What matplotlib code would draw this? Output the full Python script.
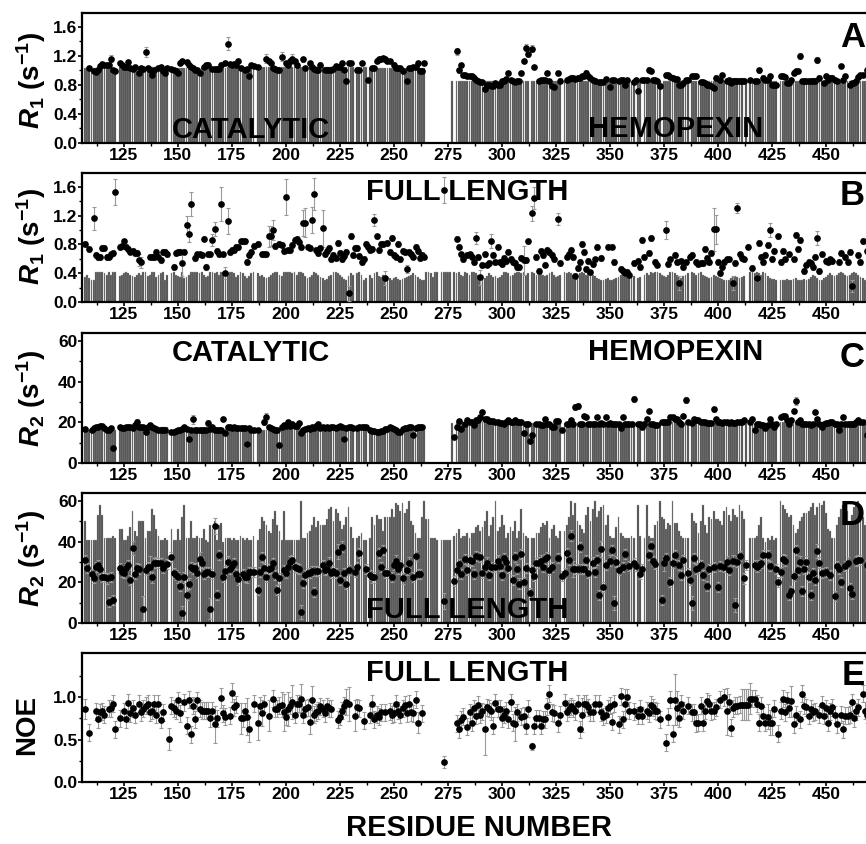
import numpy as np
import matplotlib
matplotlib.use('Agg')
import matplotlib.pyplot as plt
from matplotlib.ticker import MultipleLocator, FixedLocator

plt.rcParams['font.family'] = ['Liberation Sans', 'DejaVu Sans']
plt.rcParams['font.weight'] = 'bold'
plt.rcParams['mathtext.fontset'] = 'custom'
plt.rcParams['mathtext.rm'] = 'Liberation Sans:bold'
plt.rcParams['mathtext.it'] = 'Liberation Sans:bold:italic'
plt.rcParams['mathtext.bf'] = 'Liberation Sans:bold'

# every list below: one row per 10 residues starting at first_res,
# the row over the interdomain linker (267-275) has 9 entries
first_res = 107

# panel A: R1 of the isolated catalytic and hemopexin domains
r1_domain = [
    [None, None, 1.03, None, 0.99, 0.98, 1.01, 1.06, 1.09, 1.07],
    [1.07, 1.07, 1.16, 1.00, 0.99, None, 1.10, 1.07, 1.05, 1.05],
    [1.11, 1.03, 1.02, 1.04, None, 0.96, 1.03, 1.02, 1.25, 1.03],
    [1.00, 0.94, 1.01, None, 1.03, 1.05, 0.99, 0.97, 1.03, None],
    [1.02, 1.00, 0.99, 0.97, 1.10, 1.13, None, 1.11, 1.07, 1.04],
    [1.03, 1.01, 1.00, 0.97, None, 1.04, 1.07, 1.08, None, 1.02],
    [1.02, 1.02, 1.02, 1.08, None, 1.10, 1.37, 1.09, 1.08, 1.09],
    [1.07, 1.13, 1.03, None, 1.01, 1.02, 0.92, 1.07, 1.06, None],
    [1.04, None, None, None, 1.16, 1.13, 1.10, 1.03, 1.02, 1.00],
    [1.00, 1.19, None, 1.10, 1.08, 1.13, 1.16, 1.13, 1.07, None],
    [None, 1.15, 1.03, None, 1.10, 1.05, 1.02, 1.00, 1.00, 1.08],
    [None, 1.00, 1.00, 1.00, 1.01, 1.02, 1.06, 1.05, 1.05, 1.10],
    [1.00, 0.85, 1.10, 1.10, None, None, 1.00, 1.00, 1.10, None],
    [None, 0.87, None, 1.03, 1.03, 1.13, 1.15, 1.16, 1.17, 1.15],
    [1.13, 1.13, None, 1.08, 1.03, 1.03, 1.03, 0.99, None, 0.85],
    [1.03, 1.03, 1.05, 1.05, 1.10, 0.99, 0.99, 1.10, None, None],
    [None, None, None, None, None, None, None, None, None],
    [None, None, None, 1.26, 1.00, 1.07, 0.94, 0.93, 0.92, 0.92],
    [0.92, 0.90, 0.87, 0.85, 0.84, 0.84, 0.74, 0.80, 0.80, 0.78],
    [0.79, 0.82, 0.80, 0.80, 0.85, 0.86, 0.88, 0.96, 0.87, 0.85],
    [0.84, 0.85, 0.85, 0.96, 1.13, 1.31, 1.23, None, 1.30, 1.05],
    [None, 0.85, 0.87, 0.87, 0.87, 0.96, 0.85, 0.79, 0.77, None],
    [0.96, 0.86, None, None, 0.87, 0.88, 0.90, 0.90, 0.88, 0.90],
    [0.90, 0.92, 0.92, 0.97, 0.92, 0.90, 0.87, 0.86, None, 0.84],
    [0.84, 0.84, 0.88, None, 0.77, 0.87, 0.87, None, 0.86, 0.87],
    [0.87, 0.80, 0.87, None, None, 0.84, 0.87, 0.71, None, 0.87],
    [0.87, 0.87, 1.01, 0.99, 0.87, 0.87, 0.85, 0.79, None, None],
    [0.93, 0.93, 0.91, 0.90, 0.88, 0.88, 0.80, 0.80, 0.83, 0.87],
    [0.87, None, 0.92, 0.92, 0.92, None, 0.84, 0.84, 0.82, 0.80],
    [0.80, 0.78, 0.76, 0.90, None, 0.87, 0.94, None, 0.86, 0.87],
    [0.82, 0.86, 0.86, 0.86, 0.86, 0.86, 0.86, None, None, 0.87],
    [None, 0.85, 0.85, 1.00, None, 0.90, 0.87, 0.87, 0.92, 0.80],
    [0.80, 0.80, None, 0.92, 0.92, 0.91, 0.82, 0.82, 0.87, 0.97],
    [0.99, 0.99, 1.20, 0.85, 0.85, 0.85, 0.85, 0.85, 0.86, 0.86],
    [1.14, 0.90, None, 0.83, 0.92, 0.87, 0.90, 0.90, 0.87, 0.85],
    [None, 1.06, 0.87, 0.92, None, 0.80, 0.82, 0.82, 0.85, 0.91],
    [0.94, 0.94, None, 1.01],
]
r1_domain_bar = [
    [1.03, 1.03, 1.03, 1.03, 1.03, 1.03, 1.03, 1.03, 1.03, 1.03],
    [1.03, 1.03, 1.03, 1.03, 1.03, None, 1.05, 1.05, 1.05, 1.05],
    [1.05, 1.05, 1.05, 1.05, 1.05, 1.05, 1.05, 1.05, 1.05, 1.05],
    [1.05, 1.05, 1.05, 1.05, 1.05, 1.05, 1.05, 1.05, 1.05, None],
    [1.03, 1.03, 1.03, 1.03, 1.03, 1.03, 1.03, 1.03, 1.03, 1.03],
    [1.03, 1.03, 1.03, 1.03, 1.03, 1.04, 1.04, 1.04, 1.04, 1.04],
    [1.04, 1.04, 1.03, 1.03, 1.03, 1.03, 1.04, 1.04, 1.04, 1.04],
    [1.04, 1.04, 1.04, 1.03, 1.03, 1.03, 1.03, 1.03, 1.03, None],
    [1.05, 1.05, 1.05, 1.05, 1.05, 1.05, 1.05, 1.05, 1.05, 1.05],
    [1.05, 1.05, 1.05, 1.05, 1.05, 1.05, 1.05, 1.05, 1.05, 1.05],
    [1.05, 1.05, 1.05, 1.05, 1.05, 1.05, 1.05, 1.05, 1.05, 1.05],
    [1.05, 1.05, 1.05, 1.05, 1.05, 1.05, 1.05, 1.05, 1.05, 1.05],
    [1.05, 1.05, 1.05, 1.05, 1.05, None, 1.04, 1.04, 1.04, 1.04],
    [1.04, None, 1.03, 1.03, 1.03, 1.03, 1.03, 1.03, 1.03, 1.03],
    [1.03, 1.03, 1.03, 1.03, 1.03, 1.03, 1.03, 1.03, 1.03, 1.03],
    [1.03, 1.03, 1.03, 1.03, 1.03, 1.03, 1.03, 1.03, None, None],
    [None, None, None, None, None, None, None, None, None],
    [None, 0.85, None, 0.86, 0.86, 0.86, 0.86, 0.86, 0.86, 0.86],
    [0.86, 0.86, 0.86, 0.86, 0.86, 0.86, 0.86, 0.86, 0.86, 0.86],
    [0.86, 0.86, 0.86, 0.86, 0.86, 0.86, 0.86, 0.86, 0.86, 0.86],
    [0.86, 0.86, 0.86, 0.86, 0.86, 0.86, 0.86, None, 0.85, 0.85],
    [0.85, 0.85, 0.85, 0.85, 0.85, 0.85, 0.85, 0.85, 0.85, 0.85],
    [0.85, 0.85, None, 0.85, 0.85, 0.85, 0.85, 0.85, 0.85, 0.85],
    [0.85, 0.85, 0.85, 0.85, 0.85, 0.85, 0.85, 0.85, 0.85, 0.85],
    [0.85, 0.85, 0.85, 0.85, 0.85, 0.85, 0.85, 0.85, 0.85, 0.85],
    [0.85, 0.85, 0.85, 0.85, 0.85, 0.85, None, 0.85, 0.85, None],
    [0.85, 0.85, 0.85, 0.85, 0.85, 0.85, 0.85, 0.85, None, 0.86],
    [0.86, 0.86, 0.86, 0.86, 0.86, 0.86, 0.86, 0.86, 0.86, 0.86],
    [0.86, None, 0.85, 0.85, 0.85, 0.85, 0.85, 0.85, 0.85, 0.85],
    [0.85, 0.85, 0.85, 0.85, 0.85, 0.85, 0.85, 0.85, 0.85, 0.85],
    [0.85, 0.85, 0.85, 0.85, 0.85, 0.85, None, 0.85, None, 0.85],
    [0.85, 0.85, 0.85, 0.85, 0.85, 0.85, 0.85, 0.85, 0.85, 0.85],
    [0.85, 0.85, None, 0.85, 0.85, 0.85, 0.85, 0.85, 0.85, 0.85],
    [0.85, 0.85, 0.85, 0.85, 0.85, 0.85, 0.85, 0.85, 0.85, 0.85],
    [0.85, 0.85, 0.85, 0.85, 0.85, 0.85, 0.85, 0.85, 0.85, 0.85],
    [0.85, 0.85, 0.85, 0.85, 0.85, 0.85, 0.85, 0.85, 0.85, 0.85],
    [0.85, 0.85, 0.85, 0.85],
]
r1_domain_err = {119: 0.05, 135: 0.07, 173: 0.09, 191: 0.06, 198: 0.06, 203: 0.07,
                 279: 0.05, 311: 0.05, 312: 0.05, 314: 0.05, 438: 0.04, 446: 0.04}

# panel B: R1 of full-length protein
r1_full = [
    [0.80, None, 0.74, None, 1.16, 0.65, 0.62, 0.62, 0.75, 0.75],
    [0.62, 0.63, 0.66, 0.68, 1.53, None, 0.76, 0.78, 0.84, 0.77],
    [0.74, 0.70, 0.71, 0.68, 0.68, 0.58, 0.55, None, None, None],
    [0.63, 0.63, 0.62, 0.69, 0.63, 0.58, 0.69, 0.69, 0.66, None],
    [None, 0.49, 0.68, 0.69, 0.70, 0.54, 0.70, 1.07, 0.95, 1.36],
    [None, 0.61, 0.66, 0.66, 0.65, 0.88, 0.49, 0.66, 0.66, 0.86],
    [1.01, 0.71, 0.66, 1.36, 0.66, 0.40, 1.12, 0.69, 0.72, 0.72],
    [0.76, 0.76, 0.84, 0.84, 0.84, 0.56, 0.65, 0.70, 0.78, None],
    [0.80, None, 0.66, 0.66, 0.66, 0.91, 0.92, 1.00, 0.78, None],
    [0.80, 0.79, 0.71, 1.46, 0.72, 0.72, 0.79, 0.86, 0.88, 0.83],
    [0.76, 1.09, 1.10, 0.77, 0.75, 1.14, 1.50, 0.72, 0.68, 0.75],
    [1.02, 0.66, 0.71, 0.75, 0.60, 0.65, 0.61, 0.82, 0.68, 0.59],
    [0.64, 0.69, 0.12, 0.92, 0.65, 0.75, 0.75, 0.64, 0.56, 0.60],
    [0.80, 0.77, 0.72, 0.74, 1.14, 0.91, 0.72, 0.80, 0.80, 0.33],
    [0.82, 0.69, 0.89, 0.65, 0.63, 0.80, 0.59, 0.71, 0.69, 0.46],
    [0.69, 0.66, 0.63, 0.77, 0.71, 0.61, 0.65, 0.63, None, None],
    [None, None, None, None, None, None, 1.55, None, None],
    [None, None, None, 0.88, 0.77, 0.66, 0.60, None, 0.65, 0.66],
    [0.63, 0.56, 0.89, 0.62, 0.34, 0.51, 0.66, 0.52, 0.54, 0.85],
    [0.65, 0.56, 0.77, 0.56, 0.53, 0.61, 0.57, 0.70, 0.60, 0.56],
    [0.54, 0.49, 0.48, 0.61, 0.58, 0.58, 0.84, None, 1.23, 1.44],
    [0.62, 0.43, 0.71, 0.65, 0.52, 0.72, 0.69, 0.65, 0.59, None],
    [1.15, 0.54, None, None, 0.63, 0.66, 0.72, 0.62, 0.36, 0.47],
    [0.55, 0.81, 0.69, 0.46, 0.57, 0.41, 0.53, 0.59, 0.76, None],
    [0.61, None, None, 0.77, None, 0.77, 0.55, None, None, 0.46],
    [0.43, 0.40, 0.42, 0.38, None, 0.54, None, 0.57, 0.49, 0.86],
    [0.62, None, 0.68, 0.89, None, 0.55, 0.52, None, None, None],
    [1.00, 0.53, 0.59, None, 0.65, 0.55, 0.26, 0.57, 0.49, 0.55],
    [None, 0.62, 0.65, None, 0.55, 0.53, 0.54, 0.54, 0.74, 0.61],
    [0.55, 0.68, 1.01, 1.01, 0.56, 0.40, 0.49, 0.56, 0.59, 0.59],
    [None, 0.26, 0.54, 1.30, 0.66, 0.61, 0.59, None, 0.77, None],
    [0.47, None, 0.33, 0.82, 0.63, 0.56, 0.65, 0.79, 1.00, 0.60],
    [0.71, None, 0.91, 0.56, 0.71, 0.59, None, 0.66, None, 0.59],
    [0.93, 0.74, 0.86, None, 0.43, 0.52, 0.55, 0.54, 0.49, 0.63],
    [0.89, 0.43, 0.66, None, 0.57, 0.56, 0.59, 0.57, None, None],
    [0.56, 0.68, None, 0.62, 0.55, 0.69, 0.22, None, None, 0.65],
    [0.56, 0.85, None, 0.71],
]
r1_full_bar = [
    [0.35, 0.38, 0.33, 0.30, 0.31, 0.42, 0.42, 0.42, 0.42, 0.40],
    [0.38, 0.42, 0.38, 0.42, 0.42, None, 0.36, 0.38, 0.40, 0.42],
    [0.40, 0.37, 0.36, 0.35, 0.38, 0.40, 0.38, 0.41, 0.42, 0.36],
    [0.38, 0.41, 0.42, 0.35, 0.38, 0.40, 0.42, 0.30, 0.38, None],
    [0.40, 0.42, 0.38, 0.36, 0.35, 0.42, 0.33, 0.35, 0.38, 0.42],
    [0.42, 0.41, 0.42, 0.40, 0.42, 0.37, 0.35, 0.36, 0.42, 0.42],
    [0.40, 0.42, 0.38, 0.41, 0.42, 0.42, 0.40, 0.42, 0.42, 0.40],
    [0.35, 0.38, 0.42, 0.40, 0.36, 0.33, 0.36, 0.40, 0.42, None],
    [0.40, 0.36, 0.38, 0.35, 0.33, 0.35, 0.38, 0.40, 0.42, 0.41],
    [0.38, 0.36, 0.42, 0.42, 0.42, 0.42, 0.40, 0.42, 0.38, 0.41],
    [0.42, 0.40, 0.36, 0.33, 0.35, 0.38, 0.42, 0.40, 0.38, 0.35],
    [0.33, 0.30, 0.32, 0.36, 0.38, 0.42, 0.42, 0.40, 0.38, 0.35],
    [0.32, 0.30, 0.36, 0.40, 0.38, None, 0.40, 0.42, 0.38, 0.30],
    [0.33, None, 0.38, 0.33, 0.40, 0.42, 0.36, 0.35, 0.38, 0.32],
    [0.35, 0.33, 0.30, 0.33, 0.35, 0.32, 0.30, 0.32, 0.33, 0.35],
    [0.36, 0.38, 0.40, 0.38, 0.35, 0.32, 0.30, 0.30, 0.42, 0.42],
    [0.40, 0.35, 0.42, 0.42, None, 0.42, 0.42, 0.42, 0.42],
    [0.42, None, 0.42, 0.40, 0.42, 0.38, 0.36, 0.42, 0.40, 0.38],
    [0.42, 0.42, 0.40, 0.38, 0.36, 0.35, 0.33, 0.36, 0.40, 0.38],
    [0.35, 0.36, 0.33, 0.34, 0.38, 0.42, 0.42, 0.40, 0.36, 0.38],
    [0.40, 0.42, 0.42, 0.40, 0.42, 0.38, 0.40, None, 0.42, 0.40],
    [0.38, 0.42, 0.42, 0.38, 0.36, 0.38, 0.40, 0.42, 0.38, 0.35],
    [0.36, 0.38, None, 0.42, 0.40, 0.42, 0.40, 0.38, 0.35, 0.36],
    [0.40, 0.42, 0.40, 0.38, 0.42, 0.40, 0.38, 0.36, 0.33, 0.32],
    [0.30, 0.31, 0.32, 0.33, 0.31, 0.30, 0.32, 0.33, 0.35, 0.38],
    [0.40, 0.42, 0.42, 0.40, 0.35, 0.36, None, 0.33, 0.35, None],
    [0.38, 0.40, 0.38, 0.42, 0.40, 0.42, 0.42, 0.40, 0.38, 0.36],
    [0.35, 0.38, 0.42, 0.42, 0.40, 0.38, 0.36, 0.33, 0.36, 0.38],
    [0.40, None, 0.42, 0.40, 0.38, 0.40, 0.42, 0.38, 0.36, 0.35],
    [0.33, 0.35, 0.38, 0.36, 0.34, 0.33, 0.32, 0.31, 0.30, 0.31],
    [0.33, 0.35, 0.36, 0.34, 0.33, 0.35, 0.36, None, None, 0.42],
    [0.42, 0.40, 0.42, 0.40, 0.38, 0.42, 0.40, 0.36, 0.33, 0.32],
    [0.32, 0.30, None, 0.31, 0.30, 0.31, 0.32, 0.31, 0.30, 0.32],
    [0.33, 0.31, 0.30, 0.31, 0.32, 0.30, 0.32, 0.35, 0.38, 0.36],
    [0.33, 0.31, 0.30, 0.33, 0.35, 0.38, 0.40, 0.38, 0.36, 0.38],
    [0.40, 0.42, 0.40, 0.38, 0.36, 0.38, 0.40, 0.42, 0.40, 0.38],
    [0.35, 0.33, 0.30, 0.31],
]
r1_full_err = {111: 0.16, 121: 0.18, 132: 0.08, 133: 0.08, 152: 0.18, 154: 0.13,
               155: 0.12, 156: 0.17, 166: 0.08, 167: 0.10, 170: 0.24, 172: 0.08,
               173: 0.18, 192: 0.14, 193: 0.14, 194: 0.14, 200: 0.25, 208: 0.18,
               209: 0.20, 212: 0.18, 213: 0.22, 217: 0.25, 229: 0.10, 241: 0.08,
               246: 0.10, 256: 0.06, 273: 0.18, 288: 0.08, 290: 0.10, 295: 0.10,
               310: 0.20, 314: 0.10, 315: 0.15, 326: 0.08, 376: 0.12, 382: 0.10,
               398: 0.30, 399: 0.20, 407: 0.10, 409: 0.07, 417: 0.10, 424: 0.10,
               446: 0.10, 462: 0.08}

# panel C: R2 of the isolated domains
r2_domain = [
    [16.5, None, None, 16.0, 17.0, 17.5, 17.5, 18.0, 18.0, 17.0],
    [16.0, 16.0, 17.0, 7.6, None, None, 17.5, 17.0, 17.0, 17.5],
    [17.8, 17.5, 17.0, 18.6, 20.3, 17.8, 17.5, 17.8, 15.3, 17.8],
    [18.6, 17.8, 17.0, 16.5, 16.0, 16.0, 16.0, 16.0, None, None],
    [15.3, 15.3, 15.8, 16.0, 16.0, 16.5, 17.8, 16.5, 12.0, 16.0],
    [21.4, 16.0, 16.0, 16.0, 16.0, 16.0, 16.0, 19.8, 16.5, 17.8],
    [16.0, 16.0, 16.0, 16.0, 21.4, 14.8, 17.5, 17.8, 17.0, 17.5],
    [17.0, 17.0, 17.0, 17.0, 17.0, 9.2, 17.0, 16.0, 16.0, None],
    [16.0, None, None, 20.3, 22.4, 17.5, 17.0, 16.5, 16.0, 16.0],
    [8.7, 17.8, 18.6, 18.0, 20.3, 18.0, 19.4, 18.1, 18.1, 19.8],
    [14.8, 16.0, 16.5, 17.0, 16.5, 17.5, 17.0, 18.0, 19.1, 17.0],
    [17.5, 17.0, 17.5, 17.0, 17.5, 17.5, 17.0, 17.5, 18.0, 17.5],
    [12.0, 17.0, 17.5, 17.8, 17.0, None, 17.0, 17.5, 17.8, 17.8],
    [17.8, None, 16.0, 15.8, 15.8, 15.3, 15.3, 15.8, 15.8, 16.5],
    [16.5, 17.5, 17.0, 16.5, 16.0, 15.3, 15.3, 16.5, 17.0, 17.0],
    [17.8, 17.5, 13.7, 17.0, 17.5, 17.8, 17.8, None, None, None],
    [None, None, None, None, None, None, None, None, None],
    [None, None, 12.9, 17.5, 20.8, 16.5, None, 19.4, 21.1, 20.3],
    [20.3, 18.6, 21.1, 21.1, 22.7, 25.2, 21.4, 21.4, 20.8, 20.8],
    [20.8, 20.3, 20.3, 19.8, 19.8, 19.1, 20.3, 21.1, 20.3, 20.3],
    [21.1, 20.3, 20.3, 20.3, 14.8, 19.4, 19.4, 10.9, 13.7, None],
    [19.1, 19.1, 18.6, 18.6, 21.6, 19.4, 19.4, 17.5, 17.5, 20.8],
    [20.8, None, 16.2, None, 19.1, 19.1, 21.1, 19.1, 27.4, 28.0],
    [19.4, 19.4, 23.0, 22.4, 19.1, 19.1, 19.1, 19.1, 22.7, 19.1],
    [19.8, 19.4, 22.7, 19.4, 19.8, 19.4, 19.4, 19.1, 19.1, 17.0],
    [22.7, 19.4, 19.4, 19.4, 19.4, 31.5, None, 19.4, 19.4, 17.8],
    [19.4, 21.4, 25.7, 19.4, 19.4, 18.6, 18.6, None, 20.3, 20.3],
    [20.3, 20.3, 22.4, 22.7, 21.4, 21.4, 20.3, 19.4, 23.1, 31.0],
    [20.3, None, 19.8, 21.4, 21.1, 21.1, 20.3, 20.3, 20.3, 19.8],
    [19.8, 19.8, 26.4, 21.4, 20.3, 20.3, 19.8, 20.3, 20.3, 19.8],
    [20.3, 19.8, 19.8, 20.3, 20.3, 20.3, 21.1, None, None, 20.3],
    [21.4, 16.2, 19.4, 19.4, 18.6, 18.6, 17.0, 18.6, 21.4, 19.4],
    [17.8, 19.4, None, 22.7, 23.1, 23.1, 21.1, 19.4, 21.1, 25.7],
    [30.5, 20.3, 21.1, 19.4, 19.4, 19.1, 19.1, 18.6, 19.1, 25.2],
    [21.4, 19.4, 17.8, 19.4, 19.8, 19.8, 20.3, 20.3, 19.4, 19.1],
    [16.2, 19.4, 22.4, 19.4, 19.4, 19.1, 19.1, 19.4, 20.3, 21.1],
    [20.3, 20.3, None, 13.7],
]
r2_domain_bar = [
    [16.2, 16.2, 16.2, 16.2, 16.2, 16.2, 16.2, 16.2, 16.2, 16.2],
    [16.2, 16.2, 16.2, 16.2, 16.2, None, 17.5, 17.5, 17.5, 17.5],
    [17.5, 17.5, 17.5, 17.5, 17.5, 17.5, 17.5, 17.5, 17.5, 17.5],
    [17.5, 17.5, 17.5, 17.5, 17.5, 17.5, 17.5, 17.5, 17.5, None],
    [16.2, 16.2, 16.2, 16.2, 16.2, 16.2, 16.2, 16.2, 16.2, 16.2],
    [16.2, 16.2, 16.2, 16.2, 16.2, 16.2, 16.2, 16.2, 16.2, 16.2],
    [16.5, 16.5, 16.5, 16.5, 16.5, 16.5, 16.5, 16.5, 16.5, 16.5],
    [16.2, 16.2, 16.2, 16.2, 16.2, 16.2, 16.2, 16.2, 16.2, None],
    [16.2, 16.2, 16.2, 16.2, 16.2, 16.2, 16.2, 16.2, 16.2, 16.2],
    [16.5, 16.5, 16.5, 16.5, 16.5, 16.5, 16.5, 16.5, 16.5, 16.5],
    [16.5, 16.5, 16.5, 16.5, 16.5, 16.5, 16.5, 16.5, 16.5, 16.5],
    [17.0, 17.0, 17.0, 17.0, 17.0, 17.0, 17.0, 17.0, 17.0, 17.0],
    [17.0, 17.0, 17.0, 17.0, 17.0, None, 17.5, 17.5, 17.5, 17.5],
    [17.5, None, 16.0, 16.0, 16.0, 16.0, 16.0, 16.0, 16.0, 16.0],
    [16.0, 16.0, 16.0, 16.0, 16.0, 16.0, 16.0, 16.0, 16.0, 16.0],
    [16.0, 16.0, 16.0, 16.0, 16.0, 16.0, 16.0, 16.0, None, None],
    [None, None, None, None, None, None, None, None, None],
    [None, 19.8, None, 20.3, 20.3, 20.3, 20.3, 20.3, 20.3, 20.3],
    [20.3, 20.3, 20.3, 20.3, 20.3, 20.3, 20.3, 20.3, 20.3, 20.3],
    [20.3, 20.3, 20.3, 20.3, 20.3, 20.3, 20.3, 20.3, 20.3, 20.3],
    [20.3, 20.3, 20.3, 20.3, 20.3, 20.3, 20.3, None, 19.8, 19.8],
    [19.8, 19.8, 19.8, 19.8, 19.8, 19.8, 19.8, 19.8, 19.8, 19.8],
    [19.8, 19.8, None, 19.8, 19.8, 19.8, 19.8, 19.8, 19.8, 19.8],
    [19.8, 19.8, 19.8, 19.8, 19.8, 19.8, 19.8, 19.8, 19.8, 19.8],
    [19.8, 19.8, 19.8, 19.8, 19.8, 19.8, 19.8, 19.8, 19.8, 19.8],
    [19.8, 19.8, 19.8, 19.8, 19.8, 19.8, None, 19.8, 19.8, None],
    [19.8, 19.8, 19.8, 19.8, 19.8, 19.8, 19.8, 19.8, None, 20.3],
    [20.3, 20.3, 20.3, 20.3, 20.3, 20.3, 20.3, 20.3, 20.3, 20.3],
    [20.3, None, 20.3, 20.3, 20.3, 20.3, 20.3, 20.3, 20.3, 20.3],
    [20.3, 20.3, 20.3, 20.3, 20.3, 20.3, 20.3, 20.3, 20.3, 20.3],
    [20.3, 20.3, 20.3, 20.3, 20.3, 20.3, None, 20.3, None, 19.8],
    [19.4, 19.4, 19.4, 19.4, 19.4, 19.4, 19.4, 19.4, 19.4, 19.4],
    [19.4, 19.4, None, 20.3, 20.3, 20.3, 20.3, 20.3, 20.3, 20.3],
    [20.3, 20.3, 20.3, 20.3, 20.3, 20.3, 20.3, 20.3, 20.3, 20.3],
    [20.3, 20.3, 20.3, 20.3, 20.3, 20.3, 20.3, 20.3, 20.3, 20.3],
    [20.3, 20.3, 20.3, 20.3, 20.3, 20.3, 20.3, 20.3, 20.3, 20.3],
    [20.3, 20.3, 20.3, 20.3],
]
r2_domain_err = {131: 1.5, 155: 1.0, 157: 2.0, 164: 1.5, 171: 1.0, 172: 1.0, 182: 1.5,
                 190: 1.5, 191: 2.0, 227: 1.5, 259: 1.5, 334: 1.5, 335: 1.5, 361: 1.5,
                 385: 1.5, 398: 1.2, 430: 1.0, 435: 1.0, 436: 2.0}

# panel D: R2 of full-length protein
r2_full = [
    [31.0, 27.0, None, 24.0, 22.0, 27.4, 28.5, 26.4, 22.7, 22.7],
    [21.9, 10.4, 22.7, 11.2, None, None, 26.9, 25.2, 24.7, 26.9],
    [28.5, 21.1, 36.8, 24.0, 26.9, 26.4, None, 7.1, 26.0, 27.4],
    [27.7, 22.4, 29.3, 29.7, 29.3, 29.3, 26.9, None, 29.0, None],
    [32.3, 24.7, 23.6, 22.4, 18.1, 4.9, 22.4, 13.7, 19.4, 27.4],
    [26.4, 26.9, 24.7, 31.5, 29.7, 24.0, 25.2, 25.2, 7.1, 24.0],
    [47.8, 13.7, 33.5, None, 22.7, 25.7, 30.2, 26.4, 28.0, 29.3],
    [24.0, 21.4, None, 24.0, 22.7, 22.4, 25.2, 25.2, 25.2, None],
    [16.2, 25.2, 32.6, 26.9, 22.7, 26.4, 26.9, 29.3, 23.6, 16.2],
    [21.9, None, 26.0, 24.4, 27.4, 30.2, 31.0, 27.7, 26.9, 26.4],
    [5.4, 19.8, 23.6, 24.7, 24.7, 25.7, 15.3, 25.7, 25.7, None],
    [28.5, 26.0, 26.4, 29.7, 24.4, 25.7, 24.4, 35.1, 21.1, 37.6],
    [24.7, 19.4, 26.0, None, None, 25.2, 27.4, 34.6, None, None],
    [26.4, None, 23.6, 22.4, 22.4, None, 34.6, 27.7, 35.9, 24.7],
    [24.4, None, 22.7, 28.5, 30.7, 26.4, 28.5, 21.9, None, 26.0],
    [29.7, None, 22.7, 33.0, 24.0, 24.0, None, None, None, None],
    [None, None, None, None, None, None, 10.9, None, None],
    [None, None, 20.8, 26.0, 29.0, 23.9, None, 31.3, 26.0, 31.0],
    [30.5, 23.9, 33.0, None, 32.6, 24.4, 27.4, 29.7, 23.6, 27.4],
    [None, 27.7, 30.7, 28.0, 23.6, 31.8, 30.2, 26.9, None, 21.1],
    [32.3, 26.4, 19.4, 34.0, 20.3, 26.9, None, 14.8, 26.0, 23.1],
    [29.3, 29.7, 30.7, 27.4, 31.3, 32.3, 26.0, 27.4, None, None],
    [31.8, None, 23.1, 24.7, 34.6, 31.0, 43.0, 26.4, 26.4, 26.4],
    [37.3, 26.4, 26.4, 31.0, 24.4, None, 29.7, 25.2, 31.0, 13.7],
    [36.3, 17.8, 28.5, None, 30.7, 35.9, 9.9, 30.2, 26.0, None],
    [27.4, 34.0, None, 28.0, None, 29.3, 28.0, None, 24.0, 26.4],
    [None, None, 33.5, 37.9, 30.5, 29.0, None, None, 11.2, 29.3],
    [31.8, None, 20.3, 29.3, 33.5, None, 28.5, 23.6, 31.0, None],
    [24.4, 21.1, 9.9, 31.8, 26.4, 26.9, 28.5, 23.6, None, 18.1],
    [26.4, None, 27.4, None, 17.5, 28.0, None, 27.4, 30.2, 26.0],
    [None, 30.7, 8.7, 30.2, 33.0, None, 21.9, 28.5, None, None],
    [None, 28.5, 27.7, 28.5, 29.3, 33.5, None, 33.5, 28.0, None],
    [None, 26.4, 20.3, 25.2, 31.3, 30.7, None, 13.7, 15.7, 23.1],
    [35.9, 26.0, 30.2, 15.8, 26.4, 30.2, 22.7, 13.7, 24.4, 21.1],
    [35.4, 29.7, 24.7, None, 25.2, None, 23.6, None, 13.2, 28.0],
    [26.4, 20.3, None, 28.0, 29.7, 17.0, 14.2, None, 30.5, 31.0],
    [31.0, None, None, 28.5],
]
r2_full_bar = [
    [50, 41, 41, 41, 41, 41, 53, 58, 53, 42],
    [42, 42, 42, 43, 42, None, 46, 46, 41, 41],
    [43, 47, 55, 45, 43, 50, 50, 50, 42, 45],
    [45, 56, 53, 46, 43, 41, 41, 42, 41, None],
    [46, 41, 41, 46, 41, 52, 58, 42, 42, 50],
    [42, 42, 43, 42, 42, 46, 41, 40, 48, 46],
    [50, 41, 48, 49, 40, 42, 42, 42, 41, 42],
    [41, 41, 43, 42, 41, 42, 41, 41, 43, None],
    [41, 46, 52, 50, 48, 45, 44, 51, 55, 48],
    [45, 41, 55, 41, 41, 41, 41, 41, 41, 41],
    [60, 42, 42, 44, 45, 48, 52, 47, 50, 48],
    [48, 48, 51, 56, 57, 50, 56, 54, 50, 46],
    [48, 52, 57, 47, 42, None, 42, 43, 44, 41],
    [41, None, 42, 52, 48, 53, 51, 51, 45, 52],
    [52, 52, 56, 52, 59, 58, 55, 59, 54, 56],
    [60, 50, 48, 44, 42, 42, 52, 60, 51, 51],
    [42, 42, 42, 41, None, 41, 41, 41, 41],
    [41, None, 43, 44, 46, 42, 43, 43, 44, 42],
    [44, 44, 47, 48, 45, 47, 50, 55, 43, 48],
    [52, 60, 45, 47, 53, 48, 42, 44, 47, 45],
    [50, 42, 45, 56, 44, 43, 42, None, 42, 42],
    [44, 44, 47, 49, 48, 50, 42, 46, 48, 43],
    [42, 45, None, 45, 48, 52, 60, 53, 59, 50],
    [48, 46, 44, 53, 57, 50, 56, 60, 52, 55],
    [57, 58, 48, 53, 43, 42, 42, 47, 52, 44],
    [43, 42, 42, 42, 43, 42, None, 58, 43, None],
    [42, 58, 43, 42, 42, 48, 50, 60, 52, 51],
    [46, 49, 48, 60, 49, 49, 45, 43, 42, 42],
    [42, None, 54, 50, 49, 44, 50, 58, 48, 44],
    [52, 51, 55, 51, 51, 50, 48, 55, 57, 53],
    [50, 56, 53, 52, 58, 55, 51, None, None, 42],
    [42, 42, 43, 48, 52, 42, 40, 42, 41, 43],
    [41, 42, None, 60, 58, 56, 54, 52, 53, 48],
    [44, 46, 50, 52, 54, 54, 55, 57, 59, 53],
    [57, 59, 58, 60, 54, 46, 45, 42, 42, 48],
    [52, 56, 58, 60, 55, 48, 53, 57, 59, 60],
    [55, 52, 48, 50],
]
r2_full_err = {129: 3.5, 134: 6.0, 137: 5.0, 152: 3.5, 160: 3.5, 165: 5.0, 167: 4.0,
               207: 3.5, 224: 3.5, 273: 4.0, 333: 4.0, 346: 4.0, 352: 3.5, 375: 3.5,
               388: 3.5, 408: 3.5, 446: 3.5}

# panel E: heteronuclear NOE of full-length protein
noe_full = [
    [0.86, None, 0.58, None, None, 0.83, 0.74, 0.82, 0.83, 0.79],
    [None, 0.86, 0.87, 0.92, 0.62, None, 0.75, None, 0.83, 0.74],
    [0.93, 0.81, 0.87, 0.79, None, 0.92, 0.82, 0.86, 0.90, 0.92],
    [0.82, 0.84, 0.92, 0.79, 0.92, 0.73, 0.82, None, None, 0.51],
    [0.90, 0.87, 0.84, 0.96, 0.81, None, 0.94, 0.66, 0.97, 0.56],
    [0.90, 0.74, 0.96, 0.86, 0.84, 0.84, 0.84, 0.84, 0.75, 0.84],
    [0.68, 0.75, None, 0.99, 0.81, 0.77, None, 0.78, 1.05, 0.88],
    [0.91, None, 0.75, 0.75, 0.83, 0.77, 0.62, None, 0.92, None],
    [0.69, 0.90, 0.81, 0.92, None, 0.78, None, 0.98, 0.86, 0.86],
    [0.90, 0.91, 0.82, 0.77, 0.86, 0.90, 0.94, 0.79, 0.92, 0.92],
    [0.98, 0.79, 0.86, 0.88, 0.71, 0.96, 0.79, 0.82, 0.84, 0.89],
    [0.86, 0.81, 0.89, 0.87, 0.86, None, None, 0.73, 0.77, 0.84],
    [0.90, 0.94, 0.92, None, None, 0.78, 0.88, 0.87, None, 0.72],
    [None, None, 0.79, 0.92, 0.74, 0.79, 0.77, 0.82, None, 0.82],
    [None, 0.83, 0.79, 0.81, 0.92, 0.84, 0.79, 0.87, 0.91, 0.81],
    [0.92, 0.82, 0.81, 0.97, 0.70, None, 0.81, None, None, None],
    [None, None, None, None, None, None, 0.24, None, None],
    [None, None, None, 0.69, 0.62, 0.73, 0.77, None, 0.65, 0.82],
    [0.70, 0.87, 0.78, 0.91, 0.79, 0.83, 0.62, 0.88, 0.86, 0.83],
    [0.66, 0.93, 0.86, 0.86, 0.75, 0.79, 0.84, 0.74, 0.94, 0.70],
    [0.68, 0.82, None, 0.77, 0.78, 0.66, 0.86, None, 0.42, 0.66],
    [0.75, 0.75, 0.66, 0.74, 0.74, 0.89, 1.04, 0.82, 0.81, None],
    [0.69, 0.79, None, 0.93, 0.82, 0.86, 0.89, 0.87, 0.83, 0.92],
    [0.62, 0.79, 0.92, 0.92, 0.88, 0.82, 0.82, 0.92, None, 0.92],
    [0.82, 0.77, 0.79, 0.87, 0.90, 0.71, 0.92, None, 0.68, 1.01],
    [0.74, 0.92, 1.00, 0.84, None, 0.83, None, 0.78, 0.86, 0.78],
    [None, 0.84, 0.81, 0.91, 0.88, 0.84, 0.83, 0.74, None, None],
    [0.46, 0.77, 0.97, 0.57, 0.97, 0.87, 0.75, 0.92, 0.84, None],
    [0.90, None, 0.82, 0.82, 0.69, 0.70, 0.90, 0.70, 0.84, 0.95],
    [0.92, 0.83, 0.84, 0.88, None, 0.97, None, 1.00, 0.83, 0.94],
    [0.64, 0.87, 0.90, 0.90, 0.91, 0.91, 0.91, 0.91, 0.91, 0.98],
    [0.98, 0.98, 0.92, 0.70, 0.90, 0.78, 0.70, 0.77, 0.70, 0.70],
    [0.86, None, 0.57, 0.84, 0.98, 0.82, 0.96, 0.87, 0.95, 0.68],
    [0.79, None, 0.74, 1.04, 0.90, 0.88, 0.78, 0.86, 0.82, 0.83],
    [None, 0.79, 0.91, 0.78, 0.87, 0.70, 0.83, 0.88, 0.79, 0.68],
    [None, 0.79, 0.62, 0.78, 0.78, 0.79, 0.94, 0.75, 0.83, 0.88],
    [None, 1.04, 0.84, 0.79],
]
noe_full_err = {107: 0.12, 146: 0.13, 167: 0.22, 170: 0.12, 175: 0.11, 179: 0.18,
                182: 0.22, 183: 0.15, 187: 0.20, 189: 0.15, 192: 0.18, 198: 0.15,
                199: 0.22, 201: 0.20, 203: 0.20, 207: 0.17, 211: 0.14, 212: 0.17,
                228: 0.15, 229: 0.20, 232: 0.18, 261: 0.12, 273: 0.07, 292: 0.30,
                306: 0.20, 314: 0.04, 337: 0.20, 357: 0.17, 380: 0.30, 381: 0.20,
                404: 0.28, 411: 0.18, 412: 0.18, 413: 0.18, 414: 0.18, 415: 0.18,
                423: 0.15, 424: 0.15, 425: 0.15, 434: 0.18}

x_labels = [125, 150, 175, 200, 225, 250, 275, 300, 325, 350, 375, 400, 425, 450]


def flat(rows):
    return np.array([v for row in rows for v in row], dtype=float)


def errors(default, extra, n):
    e = np.full(n, default)
    for k, v in extra.items():
        e[k - first_res] = v
    return e


W, H = 866, 844
fig = plt.figure(figsize=(W / 100, H / 100), dpi=100)

x0, x1 = 105.6, 480.0
px_per_res = 2.16
ax_left = 82
ax_width = (x1 - x0) * px_per_res

# (top px, bottom px, ymax, dots, dot error default, extra errors, bars)
panels = [
    (13, 143, 1.79, r1_domain, 0.03, r1_domain_err, r1_domain_bar),
    (173, 302, 1.79, r1_full, 0.04, r1_full_err, r1_full_bar),
    (333, 463, 63.9, r2_domain, 0.6, r2_domain_err, r2_domain_bar),
    (493, 623, 63.9, r2_full, 2.5, r2_full_err, r2_full_bar),
    (653, 782, 1.518, noe_full, 0.1, noe_full_err, None),
]

for i, (top, bot, ymax, dots, e0, eextra, bars) in enumerate(panels):
    ax = fig.add_axes([ax_left / W, 1 - bot / H, ax_width / W, (bot - top) / H])
    y = flat(dots)
    res = first_res + np.arange(len(y))
    if bars is not None:
        b = flat(bars)
        ax.bar(res, b, width=0.85, color='#4a4a4a', edgecolor='#a8a8a8',
               linewidth=0.25, zorder=1)
    ax.errorbar(res, y, yerr=errors(e0, eextra, len(y)), fmt='o', ms=3.8,
                mfc='black', mec='black', color='black', ecolor='#9a9a9a',
                elinewidth=0.8, capsize=1.5, capthick=0.8, zorder=3)
    ax.set_xlim(x0, x1)
    ax.set_ylim(0, ymax)
    ax.xaxis.set_major_locator(FixedLocator(x_labels))
    ax.xaxis.set_minor_locator(MultipleLocator(12.5))
    if i in (0, 1):
        ax.yaxis.set_major_locator(MultipleLocator(0.4))
        ax.yaxis.set_minor_locator(MultipleLocator(0.2))
    elif i in (2, 3):
        ax.yaxis.set_major_locator(MultipleLocator(20))
        ax.yaxis.set_minor_locator(MultipleLocator(10))
    else:
        ax.yaxis.set_major_locator(FixedLocator([0.0, 0.5, 1.0]))
        ax.yaxis.set_minor_locator(FixedLocator([0.25, 0.75, 1.25]))
    ax.tick_params(which='major', direction='out', length=3, width=1.2,
                   labelsize=12.5, pad=0.5)
    ax.tick_params(which='minor', direction='out', length=2.5, width=1.0)
    for s in ax.spines.values():
        s.set_linewidth(1.6)
    for lab in ax.get_xticklabels() + ax.get_yticklabels():
        lab.set_fontweight('bold')


def fx(px):
    return px / W


def fy(py):
    return 1 - py / H


# panel letters, kept just inside the right edge
for letter, base in zip('ABCDE', [47, 205, 367, 525, 685]):
    fig.text(fx(865), fy(base), letter, fontsize=25, fontweight='bold',
             ha='right', va='baseline')

# domain labels
big = dict(fontsize=21, fontweight='bold', ha='center', va='baseline', zorder=2)
fig.text(fx(251), fy(138), 'CATALYTIC', **big)
fig.text(fx(676), fy(137), 'HEMOPEXIN', **big)
fig.text(fx(467), fy(200), 'FULL LENGTH', **big)
fig.text(fx(251), fy(361), 'CATALYTIC', **big)
fig.text(fx(676), fy(360), 'HEMOPEXIN', **big)
fig.text(fx(467), fy(618), 'FULL LENGTH', **big)
fig.text(fx(467), fy(681), 'FULL LENGTH', **big)

# y labels
ylab = dict(fontsize=20, fontweight='bold', rotation=90, ha='center', va='center')
fig.text(fx(31), fy(80), r'$R_1$ (s$^{-1}$)', **ylab)
fig.text(fx(31), fy(236), r'$R_1$ (s$^{-1}$)', **ylab)
fig.text(fx(31), fy(398), r'$R_2$ (s$^{-1}$)', **ylab)
fig.text(fx(31), fy(558), r'$R_2$ (s$^{-1}$)', **ylab)
fig.text(fx(27), fy(725), 'NOE', **ylab)

fig.text(fx(479), fy(842), 'RESIDUE NUMBER', fontsize=21, fontweight='bold',
         ha='center', va='bottom')

fig.savefig('out.png', dpi=100)
